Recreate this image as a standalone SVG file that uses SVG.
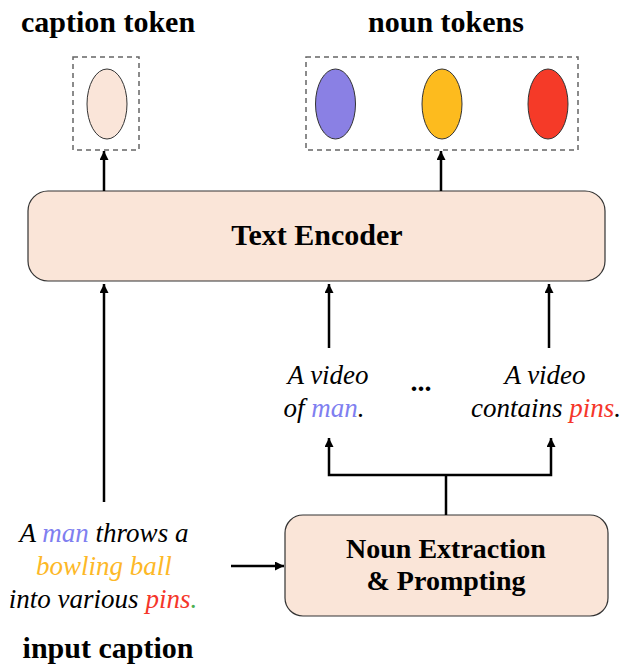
<svg xmlns="http://www.w3.org/2000/svg" width="623" height="667" viewBox="0 0 623 667">
<defs>
<marker id="ah" viewBox="0 0 10 10" refX="10" refY="5" markerWidth="11" markerHeight="9" markerUnits="userSpaceOnUse" orient="auto">
<path d="M0,0 L10,5 L0,10 Z" fill="#000"/>
</marker>
<style>
.title{font-family:"Liberation Serif","Times New Roman",serif;font-weight:bold;font-size:30px;fill:#000;text-anchor:middle}
.it{font-family:"Liberation Serif","Times New Roman",serif;font-style:italic;font-size:27px;fill:#000;text-anchor:middle}
.box{fill:#FAE5D8;stroke:#333;stroke-width:1.2}
.dash{fill:none;stroke:#666;stroke-width:1.5;stroke-dasharray:5 4}
.tok{stroke:#333;stroke-width:1}
.conn{fill:none;stroke:#000;stroke-width:2.5}
.man{fill:#7F7FF0}.ball{fill:#FDB827}.pins{fill:#F5362A}.dot{fill:#4CAF50}
</style>
</defs>
<text class="title" x="108" y="32">caption token</text>
<text class="title" x="446" y="32">noun tokens</text>
<g id="caption-token">
<rect class="dash" x="73" y="57" width="66" height="93"/>
<ellipse class="tok" cx="107" cy="104" rx="20" ry="35" fill="#FAE5D9"/>
</g>
<g id="noun-tokens">
<rect class="dash" x="306" y="57" width="272" height="93"/>
<ellipse class="tok" cx="335.5" cy="104" rx="20" ry="35" fill="#8A80E4"/>
<ellipse class="tok" cx="442" cy="104" rx="20" ry="35" fill="#FDBB1E"/>
<ellipse class="tok" cx="548" cy="104" rx="20" ry="35" fill="#F53A28"/>
</g>
<g id="text-encoder">
<rect class="box" x="28" y="191" width="577" height="90" rx="20"/>
<text class="title" x="317" y="245">Text Encoder</text>
</g>
<g id="prompt-1">
<text class="it" x="328" y="384">A video</text>
<text class="it" x="324" y="417">of <tspan class="man">man</tspan>.</text>
</g>
<g id="ellipsis"><text class="title" x="421" y="391" style="font-size:28px">...</text></g>
<g id="prompt-2">
<text class="it" x="545" y="384">A video</text>
<text class="it" x="546" y="417">contains <tspan class="pins">pins</tspan>.</text>
</g>
<g id="input-caption">
<text class="it" x="104" y="542">A <tspan class="man">man</tspan> throws a</text>
<text class="it" x="104" y="575"><tspan class="ball">bowling ball</tspan></text>
<text class="it" x="103" y="608">into various <tspan class="pins">pins</tspan><tspan class="dot">.</tspan></text>
<text class="title" x="108" y="658">input caption</text>
</g>
<g id="noun-extraction">
<rect class="box" x="285" y="515" width="323" height="101" rx="18"/>
<text class="title" x="446" y="558" style="font-size:28px">Noun Extraction</text>
<text class="title" x="446" y="590" style="font-size:28px">&amp; Prompting</text>
</g>
<g id="connectors">
<line class="conn" x1="104" y1="191" x2="104" y2="151" marker-end="url(#ah)"/>
<line class="conn" x1="441" y1="191" x2="441" y2="151" marker-end="url(#ah)"/>
<line class="conn" x1="104" y1="502" x2="104" y2="284" marker-end="url(#ah)"/>
<line class="conn" x1="329" y1="348" x2="329" y2="284" marker-end="url(#ah)"/>
<line class="conn" x1="549" y1="348" x2="549" y2="284" marker-end="url(#ah)"/>
<polyline class="conn" points="446,515 446,475"/>
<polyline class="conn" points="446,475 329,475 329,438" marker-end="url(#ah)"/>
<polyline class="conn" points="446,475 551,475 551,438" marker-end="url(#ah)"/>
<line class="conn" x1="231" y1="566" x2="284" y2="566" marker-end="url(#ah)"/>
</g>
</svg>
